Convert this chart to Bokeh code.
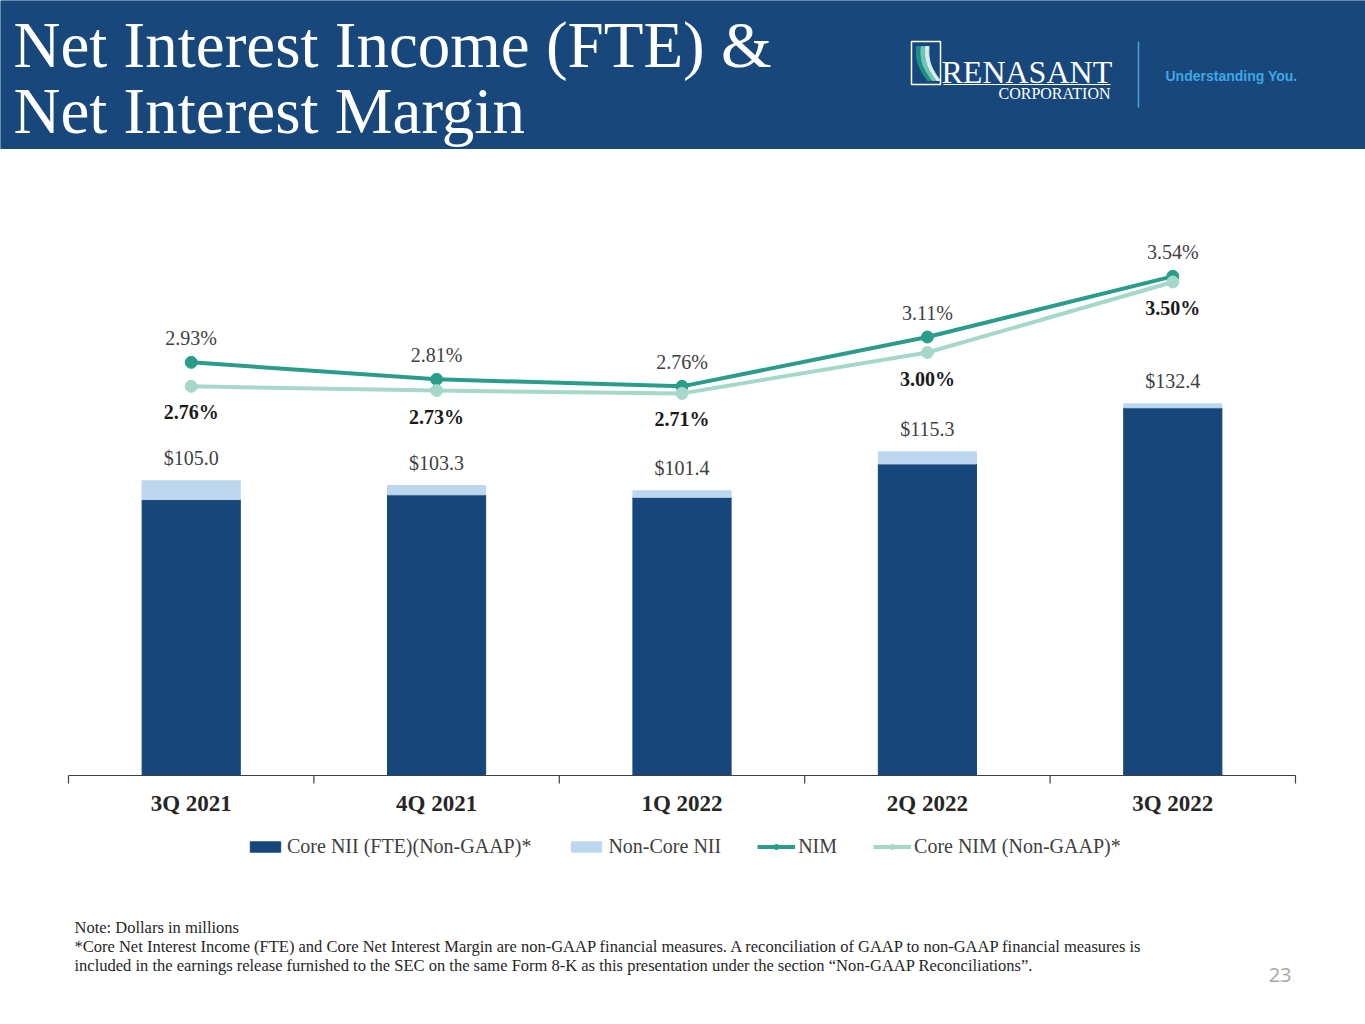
import math
from bokeh.plotting import figure
from bokeh.models import Range1d, Legend, LegendItem
from bokeh.core.properties import value
from bokeh.embed import file_html
from bokeh.resources import INLINE

# data ($ millions, %)
quarters = ["3Q 2021", "4Q 2021", "1Q 2022", "2Q 2022", "3Q 2022"]
core_nii = [98.3, 100.0, 99.1, 111.0, 131.0]
noncore_nii = [6.7, 3.3, 2.3, 4.3, 1.4]
total_nii = [105.0, 103.3, 101.4, 115.3, 132.4]
nim = [2.93, 2.81, 2.76, 3.11, 3.54]
core_nim = [2.76, 2.73, 2.71, 3.00, 3.50]

NAVY = "#17467b"
LIGHT = "#bdd7ee"
TEAL = "#2a9d8a"
MINT = "#a6d7cb"
SERIF = "Liberation Serif"

W, H = 1365, 1024
# plot area in page pixels
LEFT, RIGHT, BASE = 68, 1295, 775
PX_PER_Q = (RIGHT - LEFT) / len(quarters)
PX_PER_M = 2.807      # pixels per $1M
PX_PER_PCT = 141.0    # pixels per 1 pt of margin

# the whole canvas is the frame, y runs downwards in page pixels
p = figure(width=W, height=H, output_backend="svg", toolbar_location=None,
           x_range=Range1d(0, W), y_range=Range1d(H, 0),
           x_axis_type=None, y_axis_type=None, min_border=0, title=None)
p.outline_line_color = None
p.styles = {"position": "absolute", "left": "0px", "top": "0px"}
p.extra_x_ranges = {"q": Range1d(-LEFT / PX_PER_Q, (W - LEFT) / PX_PER_Q)}
p.extra_y_ranges = {
    "nii": Range1d((BASE - H) / PX_PER_M, BASE / PX_PER_M),
    "pct": Range1d((BASE - H) / PX_PER_PCT, BASE / PX_PER_PCT),
}

x = [i + 0.5 for i in range(len(quarters))]
bounds = list(range(len(quarters) + 1))

# header band
p.quad(left=0, right=W, top=0, bottom=148, color="#18477c")
p.text(x=[13, 13], y=[44, 110], text=["Net Interest Income (FTE) &", "Net Interest Margin"],
       text_font=value(SERIF), text_font_size="65px", text_color="white",
       text_baseline="middle")

# logo
for x0, col in [(916, "#1f8f86"), (920.5, "#6cc7b5"), (925, "#d8efe9")]:
    ts = [i / 14 for i in range(15)]
    up = [(x0 + 11 * t - 4 * math.sin(math.pi * t), 46 + 34 * t) for t in ts]
    pts = up + [(px + 3.5, py) for px, py in reversed(up)]
    p.patch([a for a, _ in pts], [b for _, b in pts], color=col)
p.quad(left=911, right=940, top=41, bottom=84, fill_alpha=0, line_color="white", line_width=1.5)
p.text(x=[941], y=[71], text=["RENASANT"], text_font=value(SERIF), text_font_size="32px",
       text_color="white", text_baseline="middle")
p.segment(x0=943, y0=84, x1=1110, y1=84, line_color="white", line_width=1)
p.text(x=[1110], y=[93], text=["CORPORATION"], text_font=value(SERIF), text_font_size="16px",
       text_color="white", text_align="right", text_baseline="middle")
p.segment(x0=1138, y0=41, x1=1138, y1=107, line_color="#4aa3d8", line_width=1.5)
p.text(x=[1165], y=[75], text=["Understanding You."], text_font=value("Liberation Sans"),
       text_font_size="14px", text_font_style="bold", text_color="#3ea8e0",
       text_baseline="middle")

# bars
core_r = p.vbar(x=x, top=core_nii, bottom=0, width=0.4, color=NAVY,
                x_range_name="q", y_range_name="nii")
non_r = p.vbar(x=x, top=total_nii, bottom=core_nii, width=0.4, color=LIGHT,
               x_range_name="q", y_range_name="nii")

# lines
nim_l = p.line(x, nim, x_range_name="q", y_range_name="pct", line_width=4, color=TEAL)
nim_d = p.scatter(x, nim, x_range_name="q", y_range_name="pct", size=12, color=TEAL)
core_l = p.line(x, core_nim, x_range_name="q", y_range_name="pct", line_width=4, color=MINT)
core_d = p.scatter(x, core_nim, x_range_name="q", y_range_name="pct", size=12, color=MINT)

# value labels
p.text(x, total_nii, text=[f"${v:.1f}" for v in total_nii], x_range_name="q",
       y_range_name="nii", y_offset=-23, text_align="center", text_baseline="middle",
       text_font=value(SERIF), text_font_size="20px", text_color="#404040")
p.text(x, nim, text=[f"{v:.2f}%" for v in nim], x_range_name="q", y_range_name="pct",
       y_offset=-24, text_align="center", text_baseline="middle", text_font=value(SERIF),
       text_font_size="20px", text_color="#404040")
p.text(x, core_nim, text=[f"{v:.2f}%" for v in core_nim], x_range_name="q",
       y_range_name="pct", y_offset=26, text_align="center", text_baseline="middle",
       text_font=value(SERIF), text_font_size="20px", text_font_style="bold",
       text_color="#1a1a1a")

# x axis: line, tick marks between quarters, quarter labels
p.segment(x0=0, y0=BASE, x1=len(quarters), y1=BASE, x_range_name="q",
          line_color="#404040", line_width=1.2)
p.segment(x0=bounds, y0=BASE, x1=bounds, y1=BASE + 8, x_range_name="q",
          line_color="#404040", line_width=1.2)
p.text(x, [BASE + 28] * len(x), text=quarters, x_range_name="q", text_align="center",
       text_baseline="middle", text_font=value(SERIF), text_font_size="23px",
       text_font_style="bold", text_color="#262626")

legend = Legend(items=[
    LegendItem(label="Core NII (FTE)(Non-GAAP)*", renderers=[core_r]),
    LegendItem(label="Non-Core NII", renderers=[non_r]),
    LegendItem(label="NIM", renderers=[nim_l, nim_d]),
    LegendItem(label="Core NIM (Non-GAAP)*", renderers=[core_l, core_d]),
], orientation="horizontal", location=(246, H - 858))
legend.label_text_font = SERIF
legend.label_text_font_size = "20px"
legend.label_text_color = "#404040"
legend.border_line_color = None
legend.background_fill_alpha = 0
legend.padding = 0
legend.margin = 0
legend.spacing = 36
legend.label_standoff = 3
legend.glyph_width = 38
legend.glyph_height = 13
p.add_layout(legend, "center")

# footnotes
notes = ["Note: Dollars in millions",
         "*Core Net Interest Income (FTE) and Core Net Interest Margin are non-GAAP financial measures. "
         "A reconciliation of GAAP to non-GAAP financial measures is",
         "included in the earnings release furnished to the SEC on the same Form 8-K as this presentation "
         "under the section \u201cNon-GAAP Reconciliations\u201d."]
p.text([74] * len(notes), [927, 946, 965], text=notes, text_font=value(SERIF),
       text_font_size="16.5px", text_color="#262626", text_baseline="middle")
p.text(x=[1291], y=[974], text=["23"], text_font=value("Open Sans"), text_font_size="20px",
       text_color="#a6a6a6", text_align="right", text_baseline="middle")

open("out.html", "w").write(file_html(p, INLINE))
